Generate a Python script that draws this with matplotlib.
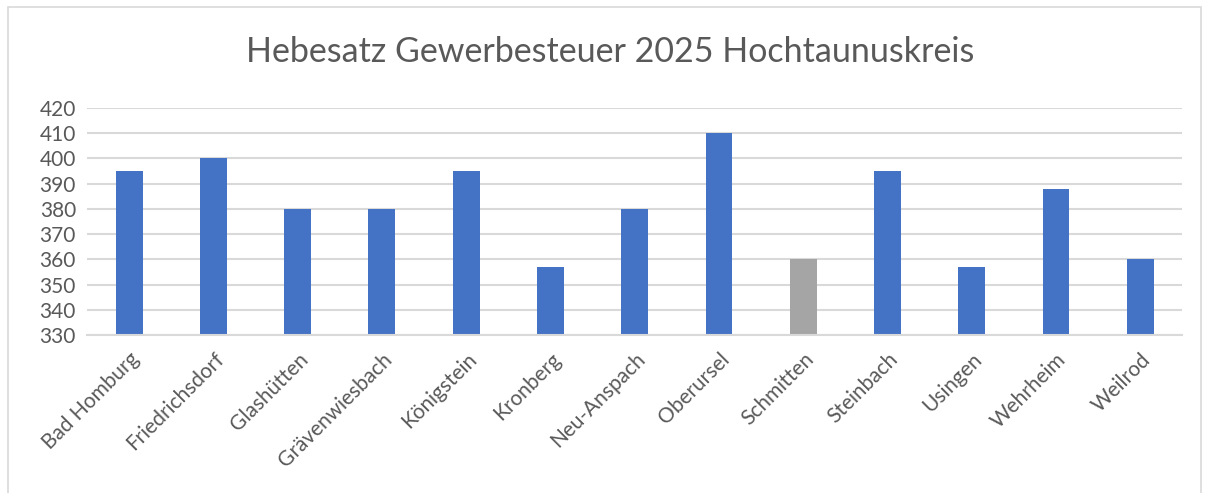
import matplotlib.pyplot as plt
from matplotlib.patches import Rectangle

plt.rcParams['font.family'] = ['Lato', 'DejaVu Sans']

towns = ["Bad Homburg", "Friedrichsdorf", "Glashütten", "Grävenwiesbach",
         "Königstein", "Kronberg", "Neu-Anspach", "Oberursel", "Schmitten",
         "Steinbach", "Usingen", "Wehrheim", "Weilrod"]
rates = [395, 400, 380, 380, 395, 357, 380, 410, 360, 395, 357, 388, 360]
highlight = "Schmitten"
yticks = list(range(330, 421, 10))

BLUE = "#4472C4"
GREY = "#A5A5A5"
TEXT = "#595959"
GRID = "#D9D9D9"

colors = [GREY if t == highlight else BLUE for t in towns]

fig = plt.figure(figsize=(12.09, 4.93), dpi=100)
ax = fig.add_axes([0.072, 0.320, 0.906, 0.461])

ax.bar(range(len(towns)), rates, width=0.32, color=colors, zorder=3)
ax.set_ylim(330, 420)
ax.set_xlim(-0.5, len(towns) - 0.5)
ax.set_yticks(yticks)
ax.set_xticks(range(len(towns)))
ax.set_xticklabels(towns, rotation=45, ha="right", rotation_mode="anchor",
                   fontsize=15, color=TEXT)
ax.tick_params(axis="y", labelsize=15, labelcolor=TEXT, length=0, pad=8)
ax.tick_params(axis="x", length=0, pad=10)
ax.yaxis.grid(True, color=GRID, linewidth=1.5, zorder=0)
for side in ["top", "right", "left"]:
    ax.spines[side].set_visible(False)
ax.spines["bottom"].set_color(GRID)
ax.spines["bottom"].set_linewidth(1.5)
ax.spines["bottom"].set_zorder(4)

fig.text(0.505, 0.895, "Hebesatz Gewerbesteuer 2025 Hochtaunuskreis",
         ha="center", va="center", fontsize=24.5, color=TEXT)

# chart area border
fig.patches.append(Rectangle((0.007, -0.05), 0.986, 1.035, transform=fig.transFigure,
                             fill=False, edgecolor=GRID, linewidth=1.2))

fig.savefig("out.png", dpi=100)
